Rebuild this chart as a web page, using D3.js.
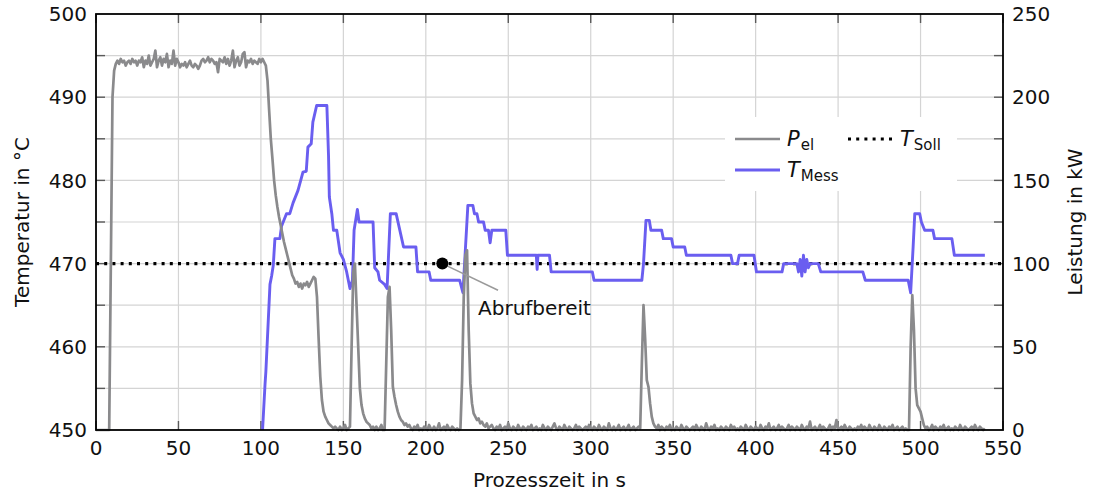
<!DOCTYPE html>
<html>
<head>
<meta charset="utf-8">
<script src="https://cdn.jsdelivr.net/npm/d3@7"></script>
<style>
  body { margin: 0; background: #fff; }
  svg { font-family: "DejaVu Sans", sans-serif; }
</style>
</head>
<body>
<svg id="chart" width="1098" height="493"></svg>
<script>
// P_el in kW, one value per second from t = 0 s
var pEl = [
  0,0,0,0,0,0,0,0,0,100,200,216,220,222,220,223,221,222,219,221,
  222,220,223,221,222,219,222,221,224,218,222,220,225,219,221,223,228,218,222,224,
  219,223,221,226,218,222,220,228,219,223,221,218,220,219,221,218,220,222,219,218,
  220,219,217,219,222,223,221,222,224,221,223,222,220,221,215,223,222,221,224,220,
  223,219,222,228,218,222,224,219,221,226,227,218,222,221,223,220,222,221,220,223,
  221,223,221,219,210,192,175,163,150,141,134,128,123,118,113,109,105,101,97,93,
  91,88,89,86,88,85,88,87,89,86,88,90,92,91,80,55,32,18,11,8,
  6,4,3,2,1,2,1,0,2,0,1,3,0,1,2,50,95,100,75,50,
  25,15,10,7,5,4,3,1,2,0,2,0,1,3,0,0,40,80,86,60,
  26,20,15,11,8,6,5,3,4,2,3,1,0,2,1,3,0,1,0,2,
  1,0,3,1,0,2,0,1,4,0,1,2,0,3,1,0,2,1,0,1,
  0,1,30,80,105,108,60,28,16,10,8,6,7,4,5,3,2,4,1,2,
  3,1,0,2,1,3,0,1,2,0,4,1,0,2,1,0,3,1,0,2,
  1,0,2,1,3,0,1,2,0,1,0,3,1,0,2,1,0,2,4,1,
  0,2,1,0,3,1,0,2,1,0,1,3,0,2,1,0,1,2,0,3,
  1,0,2,1,0,3,1,0,2,1,0,4,1,0,2,0,1,3,0,1,
  2,0,1,3,0,1,2,0,1,2,1,40,75,55,30,26,16,8,4,2,
  1,3,0,2,1,0,2,1,3,0,1,0,2,1,0,3,1,0,2,1,
  0,1,2,0,3,1,0,2,1,0,4,1,0,2,1,3,0,1,0,2,
  1,0,2,1,0,3,1,2,0,1,0,2,1,0,3,1,0,2,1,0,
  2,1,0,3,1,0,2,1,4,0,1,2,0,1,3,0,2,1,0,1,
  3,0,2,1,0,2,1,0,3,1,0,2,1,5,0,1,2,0,1,3,
  0,2,1,0,1,3,0,2,1,6,0,1,2,0,3,1,0,2,1,0,
  1,0,2,1,3,0,2,1,0,3,1,0,2,1,0,3,1,0,2,1,
  0,2,1,3,0,1,2,0,1,2,0,1,0,0,50,81,60,25,15,13,
  11,7,3,1,2,0,1,3,0,2,1,0,2,1,3,0,1,2,0,1,
  0,2,1,0,3,1,0,2,1,0,1,2,0,3,1,0,2,1,0,1
]

// T_Mess breakpoints: time in s
var tMessTime = [
  101,102.5,103,105.5,106.5,107.5,108.5,111.5,112.5,115.5,117.5,119.5,122.5,125.5,127.5,128.5,130.5,131.5,133.8,140,
  141,141.5,143,144,146,148,150,152,154,155.5,156.5,158.5,159.5,168,169,171,172,175,176.5,178.5,
  182,186.5,194,195,202,203,220.5,222.5,225.5,228.5,229.5,231,232,235,236,238,239,240,248.5,249.5,
  267,267.5,268,275,276,301,302,331,332,333.5,335.5,336.5,343,344,349,350,357,358,385,386,
  389,390,399,400.5,416,417,425,426,427,428,429,430,431,432,433,438,439.5,465,466.5,492.5,
  494,495.5,496.5,499.5,500.5,502.5,507.5,508.5,519,520.5,539
]
// T_Mess values in °C
var tMessValue = [
  450,455.5,457,467.5,468.5,469.8,473,473,474.5,476,476,477.3,478.8,481,481.1,484,484.4,487,489,489,
  483,478,476,474,474,471.3,470.5,469,467,468,474,476.5,475,475,469.5,469,468,467.5,467,476,
  476,472,472,469,469,468,468,466.5,477,477,476,476,475,475,474,474,472.5,474,474,471,
  471,469.3,471,471,469,469,468,468,470,475.2,475.2,474,474,473,473,472,472,471,471,470,
  470,471,471,469,469,470,470,469,470.5,468.5,471,469,470.5,469.5,470,470,469,469,468,468,
  466.5,472,476,476,475,474,474,473,473,471,471
]

var tSoll = 470
var xTicks = [0,50,100,150,200,250,300,350,400,450,500,550]
var tTicks = [450,460,470,480,490,500]
var pTicks = [0,50,100,150,200,250]
var gridT = [455,460,465,470,475,480,485,490,495]
var annoPoint = [210, 470]
var annoLineEnd = [243.8, 466.8]
var annoText = "Abrufbereit"

var dimensions = {
    width: 1098,
    height: 493,
    margin: { top: 14, bottom: 63, left: 96, right: 95 }
}
dimensions.boundedWidth = dimensions.width - dimensions.margin.left - dimensions.margin.right
dimensions.boundedHeight = dimensions.height - dimensions.margin.top - dimensions.margin.bottom

var svg = d3.select("#chart")

var plotTop = dimensions.margin.top
var plotBottom = dimensions.margin.top + dimensions.boundedHeight
var plotLeft = dimensions.margin.left
var plotRight = dimensions.margin.left + dimensions.boundedWidth

var xScale = d3.scaleLinear()
    .domain([0, 550])
    .range([plotLeft, plotRight])
var yScale = d3.scaleLinear()
    .domain([450, 500])
    .range([plotBottom, plotTop])
var pScale = d3.scaleLinear()
    .domain([0, 250])
    .range([plotBottom, plotTop])

svg.append("clipPath").attr("id", "plotclip")
    .append("rect")
    .attr("x", plotLeft).attr("y", plotTop - 2)
    .attr("width", dimensions.boundedWidth).attr("height", dimensions.boundedHeight + 4)

// grid
svg.append("g")
    .selectAll("line")
    .data(xTicks.slice(1, -1))
    .join("line")
    .attr("x1", d => xScale(d)).attr("x2", d => xScale(d))
    .attr("y1", plotTop).attr("y2", plotBottom)
    .attr("stroke", "#d4d4d4").attr("stroke-width", 1.2)
svg.append("g")
    .selectAll("line")
    .data(gridT)
    .join("line")
    .attr("x1", plotLeft).attr("x2", plotRight)
    .attr("y1", d => yScale(d)).attr("y2", d => yScale(d))
    .attr("stroke", "#d4d4d4").attr("stroke-width", 1.2)

// ticks (inward)
var tickLen = 9
var ticks = svg.append("g").attr("stroke", "#5a5a5a").attr("stroke-width", 1.4)
xTicks.forEach(function (d) {
    ticks.append("line").attr("x1", xScale(d)).attr("x2", xScale(d)).attr("y1", plotBottom).attr("y2", plotBottom - tickLen)
    ticks.append("line").attr("x1", xScale(d)).attr("x2", xScale(d)).attr("y1", plotTop).attr("y2", plotTop + tickLen)
})
gridT.forEach(function (d) {
    ticks.append("line").attr("x1", plotLeft).attr("x2", plotLeft + tickLen).attr("y1", yScale(d)).attr("y2", yScale(d))
    ticks.append("line").attr("x1", plotRight).attr("x2", plotRight - tickLen).attr("y1", yScale(d)).attr("y2", yScale(d))
})

// legend background box
var legend = svg.append("g")
legend.append("rect")
    .attr("x", 725).attr("y", 117).attr("width", 232).attr("height", 74)
    .attr("fill", "#fff")

// lines
var plot = svg.append("g").attr("clip-path", "url(#plotclip)")

plot.append("line")
    .attr("x1", xScale(0)).attr("x2", xScale(550))
    .attr("y1", yScale(tSoll)).attr("y2", yScale(tSoll))
    .attr("stroke", "#000").attr("stroke-width", 3.2)
    .attr("stroke-dasharray", "3 5.2")

var tLine = d3.line()
    .x((d, i) => xScale(tMessTime[i]))
    .y(d => yScale(d))
plot.append("path")
    .datum(tMessValue)
    .attr("d", tLine)
    .attr("fill", "none")
    .attr("stroke", "#6a5ef0")
    .attr("stroke-width", 2.9)
    .attr("stroke-linejoin", "round")

var pLine = d3.line()
    .x((d, i) => xScale(i))
    .y(d => pScale(d))
plot.append("path")
    .datum(pEl)
    .attr("d", pLine)
    .attr("fill", "none")
    .attr("stroke", "#8a8a8c")
    .attr("stroke-width", 2.7)
    .attr("stroke-linejoin", "round")

// annotation
svg.append("line")
    .attr("x1", xScale(annoPoint[0])).attr("y1", yScale(annoPoint[1]))
    .attr("x2", xScale(annoLineEnd[0])).attr("y2", yScale(annoLineEnd[1]))
    .attr("stroke", "#9a9a9a").attr("stroke-width", 1.5)
svg.append("circle")
    .attr("cx", xScale(annoPoint[0])).attr("cy", yScale(annoPoint[1]))
    .attr("r", 6).attr("fill", "#000")
svg.append("text")
    .attr("x", xScale(annoLineEnd[0]) - 20).attr("y", yScale(annoLineEnd[1]) + 25)
    .attr("font-size", 20).attr("fill", "#111")
    .text(annoText)

// frame
svg.append("rect")
    .attr("x", plotLeft).attr("y", plotTop)
    .attr("width", dimensions.boundedWidth).attr("height", dimensions.boundedHeight)
    .attr("fill", "none").attr("stroke", "#000").attr("stroke-width", 1.8)

// tick labels
svg.append("g").selectAll("text")
    .data(xTicks).join("text")
    .attr("x", d => xScale(d)).attr("y", plotBottom + 25)
    .attr("text-anchor", "middle").attr("font-size", 20).attr("fill", "#111")
    .text(d => d)
svg.append("g").selectAll("text")
    .data(tTicks).join("text")
    .attr("x", plotLeft - 9).attr("y", d => yScale(d)).attr("dy", "0.36em")
    .attr("text-anchor", "end").attr("font-size", 20).attr("fill", "#111")
    .text(d => d)
svg.append("g").selectAll("text")
    .data(pTicks).join("text")
    .attr("x", plotRight + 9).attr("y", d => pScale(d)).attr("dy", "0.36em")
    .attr("text-anchor", "start").attr("font-size", 20).attr("fill", "#111")
    .text(d => d)

// axis titles
svg.append("text")
    .attr("x", (plotLeft + plotRight) / 2).attr("y", 487)
    .attr("text-anchor", "middle").attr("font-size", 20).attr("fill", "#111")
    .text("Prozesszeit in s")
svg.append("text")
    .attr("transform", "translate(29," + ((plotTop + plotBottom) / 2) + ") rotate(-90)")
    .attr("text-anchor", "middle").attr("font-size", 20).attr("fill", "#111")
    .text("Temperatur in °C")
svg.append("text")
    .attr("transform", "translate(1082," + ((plotTop + plotBottom) / 2) + ") rotate(-90)")
    .attr("text-anchor", "middle").attr("font-size", 20).attr("fill", "#111")
    .text("Leistung in kW")

// legend entries
legend.append("line").attr("x1", 735).attr("x2", 780).attr("y1", 139).attr("y2", 139)
    .attr("stroke", "#8a8a8c").attr("stroke-width", 2.7)
legend.append("line").attr("x1", 735).attr("x2", 780).attr("y1", 170).attr("y2", 170)
    .attr("stroke", "#6a5ef0").attr("stroke-width", 2.9)
legend.append("line").attr("x1", 848).attr("x2", 894).attr("y1", 139).attr("y2", 139)
    .attr("stroke", "#000").attr("stroke-width", 3.2).attr("stroke-dasharray", "3 5.2")

function legendLabel(x, y, main, sub) {
    var t = legend.append("text").attr("x", x).attr("y", y).attr("fill", "#111")
    t.append("tspan").attr("font-size", 21).attr("font-style", "italic").text(main)
    t.append("tspan").attr("font-size", 15).attr("dx", 1).attr("dy", 4).text(sub)
}
legendLabel(787, 146, "P", "el")
legendLabel(900, 146, "T", "Soll")
legendLabel(787, 177, "T", "Mess")
</script>
</body>
</html>
